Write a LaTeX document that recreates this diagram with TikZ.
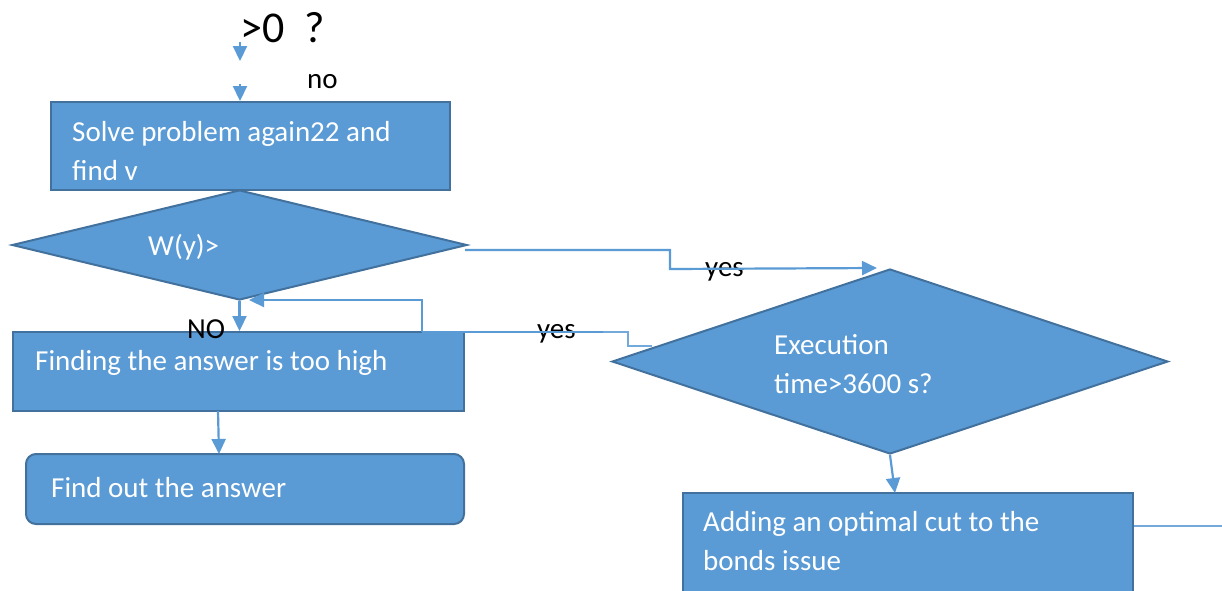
\documentclass[tikz,border=0pt]{standalone}
\usepackage{fontspec}
\setmainfont{Carlito}
\usetikzlibrary{shapes.geometric,arrows.meta,calc}
\definecolor{fillb}{HTML}{5B9BD5}
\definecolor{edgeb}{HTML}{41719C}
\begin{document}
\begin{tikzpicture}[x=1pt,y=-1pt,
  shapebox/.style={draw=edgeb,fill=fillb,line width=2pt,inner sep=0pt,rectangle},
  shapedia/.style={draw=edgeb,fill=fillb,line width=2pt,inner sep=0pt,diamond},
  intext/.style={text=white,anchor=base west,inner sep=0pt,font=\fontsize{29}{39}\selectfont,align=left},
  lbl/.style={text=black,anchor=base west,inner sep=0pt,font=\fontsize{29}{35}\selectfont},
  conn/.style={draw=fillb,line width=2.2pt},
  thin/.style={draw=fillb!85!white,line width=1.3pt},
  arr/.style={conn,-{Triangle[length=15pt,width=14pt]}}
]
\clip (0,0) rectangle (1222,590);
\fill[white] (0,0) rectangle (1222,590);

% shapes
\node[shapebox,minimum width=399pt,minimum height=88pt] (s1) at (250.5,146) {};
\node[shapedia,minimum width=455pt,minimum height=110pt] (d1) at (239.5,245) {};
\node[shapebox,minimum width=451pt,minimum height=79pt] (f1) at (238.5,371.5) {};
\node[shapebox,rounded corners=10pt,minimum width=438pt,minimum height=70pt] (a1) at (245,489) {};
\node[shapedia,minimum width=556pt,minimum height=185pt] (d2) at (890,361.5) {};
\node[shapebox,minimum width=450pt,minimum height=127pt] (r2) at (908,556.5) {};

% texts inside shapes (base anchor = last line)
\node[intext] (ts1) at (72,180) {Solve problem again22 and\\find v};
\node[intext] (td1) at (148,255) {W(y)>};
\node[intext] (tf1) at (35,370) {Finding the answer is too high};
\node[intext] (ta1) at (51,497) {Find out the answer};
\node[intext] (td2) at (774,393) {Execution\\time>3600 s?};
\node[intext] (tr2) at (703,570) {Adding an optimal cut to the\\bonds issue};

% labels
\node[lbl,font=\fontsize{44}{50}\selectfont] (q) at (240,42) {>0\hspace{0.45em}?};
\node[lbl] (lno) at (307,88) {no};
\node[lbl] (lyes1) at (705,276) {yes};
\node[lbl] (lyes2) at (537,338) {yes};
\node[lbl] (lNO) at (187,338) {NO};

% coordinates
\coordinate (t1) at (240,42);
\coordinate (t2) at (240,61);
\coordinate (t3) at (240,84);
\coordinate (d1o) at ($(d1.east)+(-3,5)$);
\coordinate (rk) at (422,332);
\coordinate (yb) at (603,332);
\coordinate (ye) at (652,346);
\coordinate (rend) at (1222,526);
\coordinate (fo) at (218,411);
\coordinate (ai) at (219,454);

% connectors
\draw[arr] (t1) -- (t2);
\draw[arr] (t3) -- (t3 |- s1.north);
\draw[arr] (d1o) -- (670,250) -- (670,269) -- ($(d2.north)+(-13,0)$);
\draw[arr] (d1.south) -- (d1.south |- f1.north);
\draw[arr] (rk) -- (422,300) -- (249,300);
\draw[conn] (rk) -- (yb);
\draw[thin] (yb) -- (628,332) -- (628,346) -- (ye);
\draw[arr] (fo) -- (ai);
\draw[arr] (d2.south) -- (895,493);
\draw[thin] (r2.east |- rend) -- (rend);
\end{tikzpicture}
\end{document}
